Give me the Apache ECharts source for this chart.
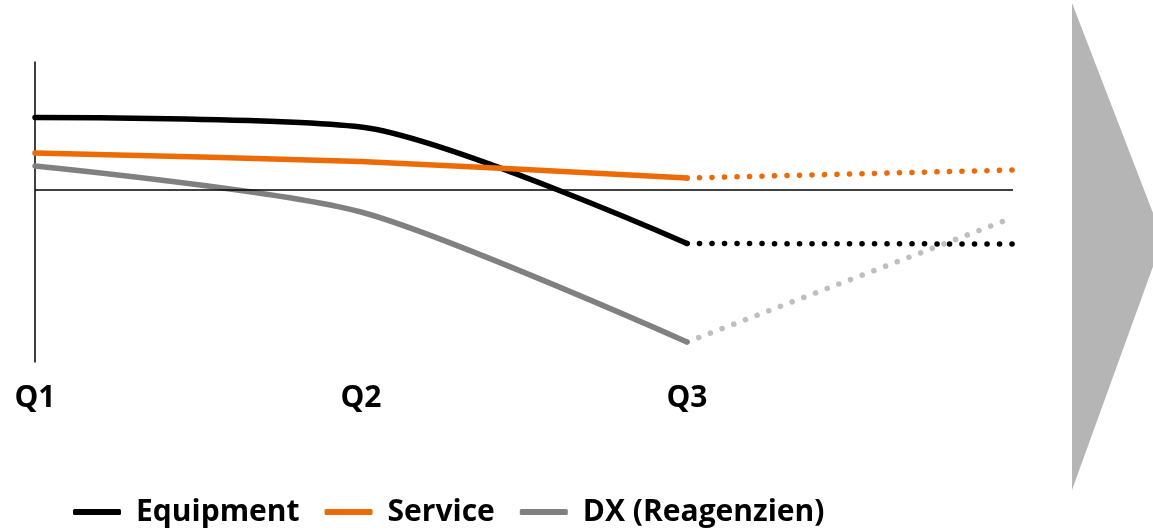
<!DOCTYPE html>
<html>
<head>
<meta charset="utf-8">
<script src="https://cdn.jsdelivr.net/npm/echarts@6/dist/echarts.min.js"></script>
<style>
  html, body { margin: 0; padding: 0; background: #fff; }
  #chart { width: 1153px; height: 530px; }
</style>
</head>
<body>
<div id="chart"></div>
<script>
// quarters (last slot is the unlabeled outlook point)
const categories = ['Q1', 'Q2', 'Q3', '']

// actual values Q1..Q3
const equipment = [7.2, 6.25, -5.4, null]
const service = [3.65, 2.8, 1.15, null]
const dx = [2.35, -2.25, -15.25, null]

// outlook from Q3 to the next point (dotted)
const equipmentOutlook = [null, null, -5.4, -5.45]
const serviceOutlook = [null, null, 1.15, 1.95]
const dxOutlook = [null, null, -15.25, -2.8]

const FONT = '"Open Sans", "DejaVu Sans", sans-serif'
const dots = [0.1, 12.4]

const chart = echarts.init(document.getElementById('chart'))

function solid(name, data, color) {
  return {
    name: name,
    type: 'line',
    data: data,
    smooth: 0.25,
    showSymbol: false,
    itemStyle: { color: color },
    lineStyle: { color: color, width: 5.5, cap: 'round' },
    animation: false,
    z: 3
  }
}

function dotted(name, data, color) {
  return {
    name: name,
    type: 'line',
    data: data,
    showSymbol: false,
    itemStyle: { color: color },
    lineStyle: { color: color, width: 5.5, type: dots, cap: 'round' },
    animation: false,
    z: 2
  }
}

const eq = solid('Equipment', equipment, '#000000')
eq.markLine = {
  silent: true,
  symbol: ['none', 'none'],
  label: { show: false },
  lineStyle: { color: '#000', width: 1.5, type: 'solid' },
  data: [{ yAxis: 0 }],
  animation: false
}

chart.setOption({
  backgroundColor: '#fff',
  grid: { left: 35, right: 140, top: 62, bottom: 168 },
  xAxis: {
    type: 'category',
    data: categories,
    boundaryGap: false,
    axisLine: { show: false },
    axisTick: { show: false },
    axisLabel: {
      margin: 21,
      color: '#000',
      fontFamily: FONT,
      fontWeight: 'bold',
      fontSize: 30
    }
  },
  yAxis: {
    type: 'value',
    min: -17.25,
    max: 12.75,
    axisLine: { show: true, lineStyle: { color: '#000', width: 1.5 } },
    axisTick: { show: false },
    axisLabel: { show: false },
    splitLine: { show: false }
  },
  legend: {
    data: ['Equipment', 'Service', 'DX (Reagenzien)'],
    left: 73,
    top: 497,
    padding: 0,
    icon: 'roundRect',
    itemWidth: 48,
    itemHeight: 6,
    itemGap: 25,
    textStyle: {
      color: '#000',
      fontFamily: FONT,
      fontWeight: 'bold',
      fontSize: 30,
      padding: [0, 0, 0, 10]
    }
  },
  graphic: [{
    type: 'polygon',
    shape: { points: [[1072, 3], [1163, 239], [1072, 490]] },
    style: { fill: '#b5b5b5' },
    silent: true
  }],
  series: [
    dotted('Equipment Ausblick', equipmentOutlook, '#000000'),
    dotted('Service Ausblick', serviceOutlook, '#ed6b06'),
    dotted('DX Ausblick', dxOutlook, '#bfbfbf'),
    eq,
    solid('Service', service, '#ed6b06'),
    solid('DX (Reagenzien)', dx, '#808080')
  ]
})
</script>
</body>
</html>
